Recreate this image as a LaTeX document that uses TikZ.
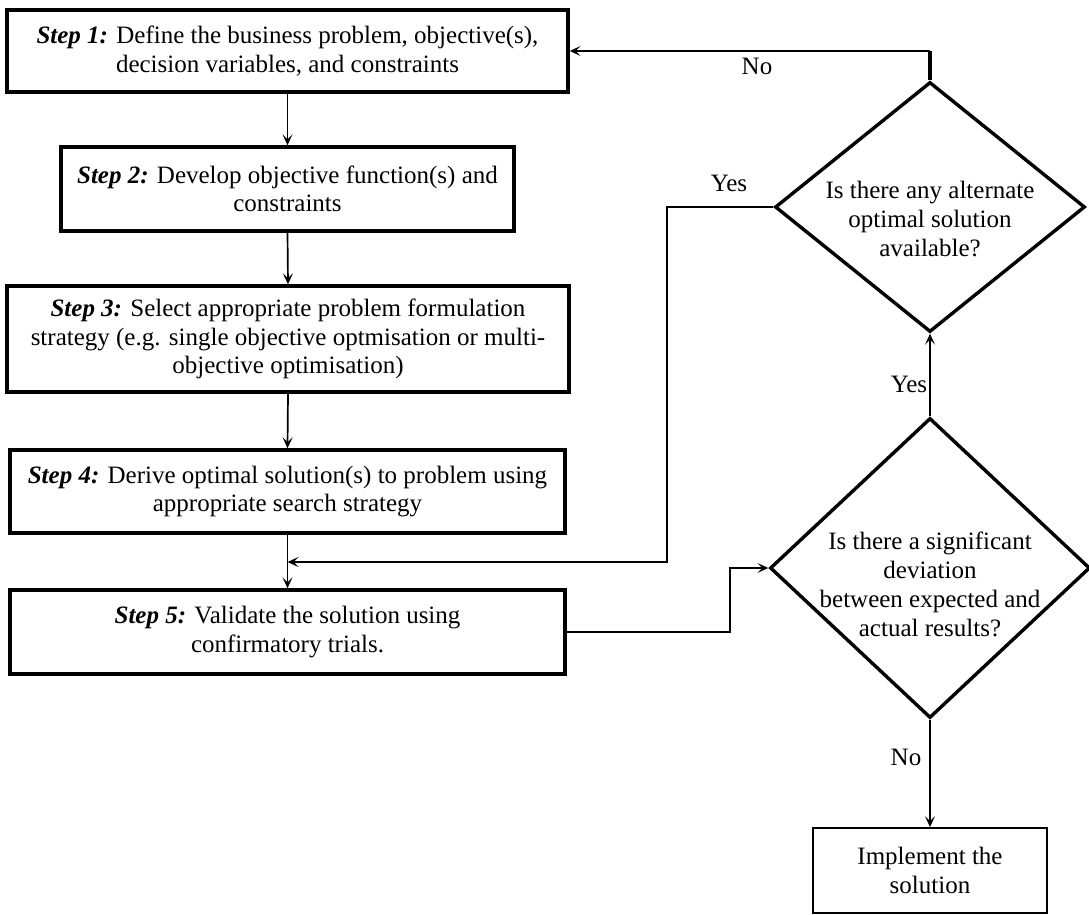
\documentclass[tikz,border=0pt]{standalone}
\usepackage{fontspec}
\setmainfont{Liberation Serif}
\usetikzlibrary{shapes.geometric,arrows.meta}
\tikzset{
  txt/.style={font=\fontsize{25}{29}\selectfont, align=center, inner sep=0pt},
  stepbox/.style={draw, line width=3.4pt, inner sep=0pt, font=\fontsize{25}{28.5}\selectfont, align=center},
  endbox/.style={draw, line width=1.8pt, inner sep=0pt, font=\fontsize{25}{29}\selectfont, align=center},
  decbox/.style={draw, diamond, line width=3.4pt, inner sep=0pt},
  conn/.style={line width=1.7pt, -{Stealth[length=11pt,width=10pt,inset=5pt]}},
  thickseg/.style={line width=3.2pt},
  lbl/.style={font=\fontsize{25}{28}\selectfont, inner sep=0pt}
}
\newcommand{\stp}[1]{\textbf{\textit{Step #1:}}}
\begin{document}
\begin{tikzpicture}[x=1pt,y=-1pt]
\useasboundingbox (0,0) rectangle (1089,915);
\fill[white] (0,0) rectangle (1089,915);

\node[stepbox, minimum width=561pt, minimum height=82pt] (b1) at (287.5,51)
  {\stp{1} Define the business problem, objective(s),\\decision variables, and constraints};
\node[stepbox, minimum width=453pt, minimum height=84pt] (b2) at (287.5,189)
  {\stp{2} Develop objective function(s) and\\constraints};
\node[stepbox, minimum width=562pt, minimum height=106pt] (b3) at (288,339)
  {\stp{3} Select appropriate problem formulation\\strategy (e.g. single objective optmisation or multi-\\objective optimisation)};
\node[stepbox, minimum width=555pt, minimum height=83pt] (b4) at (287.5,491.5)
  {\stp{4} Derive optimal solution(s) to problem using\\appropriate search strategy};
\node[stepbox, minimum width=555pt, minimum height=84pt] (b5) at (287.5,632)
  {\stp{5} Validate the solution using\\confirmatory trials.};

\node[decbox, minimum width=310pt, minimum height=250pt] (d1) at (930,207) {};
\node[txt] (d1t) at (930,219) {Is there any alternate\\optimal solution\\available?};
\node[decbox, minimum width=320pt, minimum height=300pt] (d2) at (930,568) {};
\node[txt] (d2t) at (930,584) {Is there a significant\\deviation\\between expected and\\actual results?};

\node[endbox, minimum width=234pt, minimum height=85pt] (imp) at (930,870.5)
  {Implement the\\solution};

% main chain
\draw[conn] (b1.south) -- (b2.north);
\draw[conn] (b2.south) -- (b3.north);
\draw[conn] (b3.south) -- (b4.north);
\draw[conn] (b4.south) -- (b5.north);

% Yes from d1 back to step 5 line
\coordinate (j) at (287.5,562);
\coordinate (yc) at (667,562);
\draw[conn] (d1.west) -| (yc) -- (j);
\node[lbl] (yes1) at (729,183) {Yes};

% step 5 to d2
\coordinate (k) at (730,632);
\draw[conn] (b5.east) -- (k) |- (d2.west);

% d2 Yes up to d1
\draw[conn] (d2.north) -- (d1.south);
\node[lbl] (yes2) at (909,384) {Yes};

% d2 No down to implement
\draw[conn] (d2.south) -- (imp.north);
\node[lbl] (no2) at (906,757) {No};

% d1 No back to step 1
\coordinate (c1) at (930,51);
\draw[thickseg] (d1.north) -- (c1);
\draw[conn] (c1) -- (b1.east);
\node[lbl] (no1) at (757,66) {No};
\end{tikzpicture}
\end{document}
